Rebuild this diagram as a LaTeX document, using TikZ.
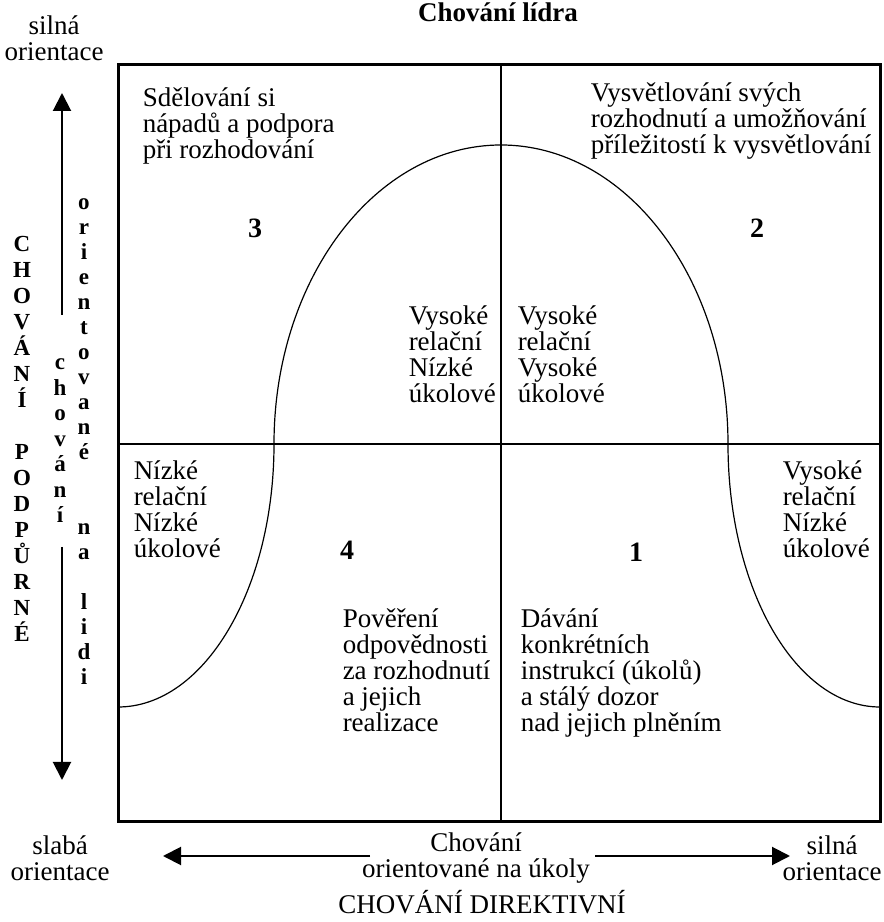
\documentclass[tikz,border=0pt]{standalone}
\usepackage{fontspec}
\setmainfont{Liberation Serif}
\usetikzlibrary{arrows.meta,positioning}
\tikzset{every picture/.style={line width=0.75pt}}
\tikzset{
  txt/.style={font=\fontsize{13.5}{13}\selectfont, align=left, inner sep=0pt, anchor=base west},
  popis/.style={font=\fontsize{13.5}{13}\selectfont, align=center, inner sep=0pt},
  cislo/.style={font=\fontsize{14}{14}\selectfont\bfseries, inner sep=0pt},
  pismeno/.style={font=\fontsize{11.5}{13}\selectfont\bfseries, inner sep=0pt, anchor=base},
  osa/.style={line width=1pt, -{Triangle[length=9pt,width=9pt]}},
}

\begin{document}
\begin{tikzpicture}[x=0.5pt,y=0.5pt]
    \useasboundingbox (0,0) rectangle (884,922);

    % 绘制 框与分隔线
    \draw[line width=0.7pt] (501,100) -- (501,857);
    \draw[line width=0.7pt] (118,478) -- (880,478);
    \draw[line width=1.5pt] (118,100) rectangle (880,857);

    % 绘制 钟形曲线
    \draw[line width=0.6pt] (118,215)
        arc[start angle=270, end angle=360, x radius=78pt, y radius=131.5pt]
        arc[start angle=180, end angle=0, x radius=113.5pt, y radius=149.5pt]
        arc[start angle=180, end angle=270, x radius=76pt, y radius=131.5pt];

    % 标题
    \node[font=\fontsize{13.5}{13}\selectfont\bfseries, inner sep=0pt, anchor=base] (titul) at (498,900) {Chování lídra};

    % 左侧竖排文字
    \foreach \z [count=\i] in {C,H,O,V,Á,N,Í,{},P,O,D,P,Ů,R,N,É}
        \node[pismeno] (podp\i) at (22,{670-26*(\i-1)}) {\z};
    \foreach \z [count=\i] in {c,h,o,v,á,n,í}
        \node[pismeno] (chov\i) at (60,{552-25.5*(\i-1)}) {\z};
    \foreach \z [count=\i] in {o,r,i,e,n,t,o,v,a,n,é,{},{},n,a,{},l,i,d,i}
        \node[pismeno] (lidi\i) at (84,{712-25*(\i-1)}) {\z};

    % 箭头
    \coordinate (vh0) at (62,607);
    \coordinate (vh1) at (62,829);
    \coordinate (vd0) at (62,375);
    \coordinate (vd1) at (62,142);
    \draw[osa] (vh0) -- (vh1);
    \draw[osa] (vd0) -- (vd1);
    \coordinate (hl0) at (370,66);
    \coordinate (hl1) at (163,66);
    \coordinate (hp0) at (595,66);
    \coordinate (hp1) at (790,66);
    \draw[osa] (hl0) -- (hl1);
    \draw[osa] (hp0) -- (hp1);

    % 轴标注 (base = 最后一行)
    \node[popis] (silna1) at (54,884) {silná\\orientace};
    \node[popis, anchor=base] (slaba) at (60,41) {slabá\\orientace};
    \node[popis, anchor=base] (ukoly) at (476,44) {Chování\\orientované na úkoly};
    \node[popis, anchor=base] (silna2) at (832,41) {silná\\orientace};
    \node[popis, anchor=base] (direkt) at (482,9) {CHOVÁNÍ DIREKTIVNÍ};

    % 象限文字
    \node[txt] (q3) at (142,763) {Sdělování si\\nápadů a podpora\\při rozhodování};
    \node[txt] (q2) at (590,768) {Vysvětlování svých\\rozhodnutí a umožňování\\příležitostí k vysvětlování};
    \node[txt] (vl) at (408,519) {Vysoké\\relační\\Nízké\\úkolové};
    \node[txt] (vp) at (517,519) {Vysoké\\relační\\Vysoké\\úkolové};
    \node[txt] (nl) at (133,364) {Nízké\\relační\\Nízké\\úkolové};
    \node[txt] (np) at (782,364) {Vysoké\\relační\\Nízké\\úkolové};
    \node[txt] (q4) at (342,190) {Pověření\\odpovědnosti\\za rozhodnutí\\a jejich\\realizace};
    \node[txt] (q1) at (520,190) {Dávání\\konkrétních\\instrukcí (úkolů)\\a stálý dozor\\nad jejich plněním};

    % 编号
    \node[cislo] (c3) at (255,694) {3};
    \node[cislo] (c2) at (757,694) {2};
    \node[cislo] (c4) at (347,372) {4};
    \node[cislo] (c1) at (636,370) {1};
\end{tikzpicture}
\end{document}
